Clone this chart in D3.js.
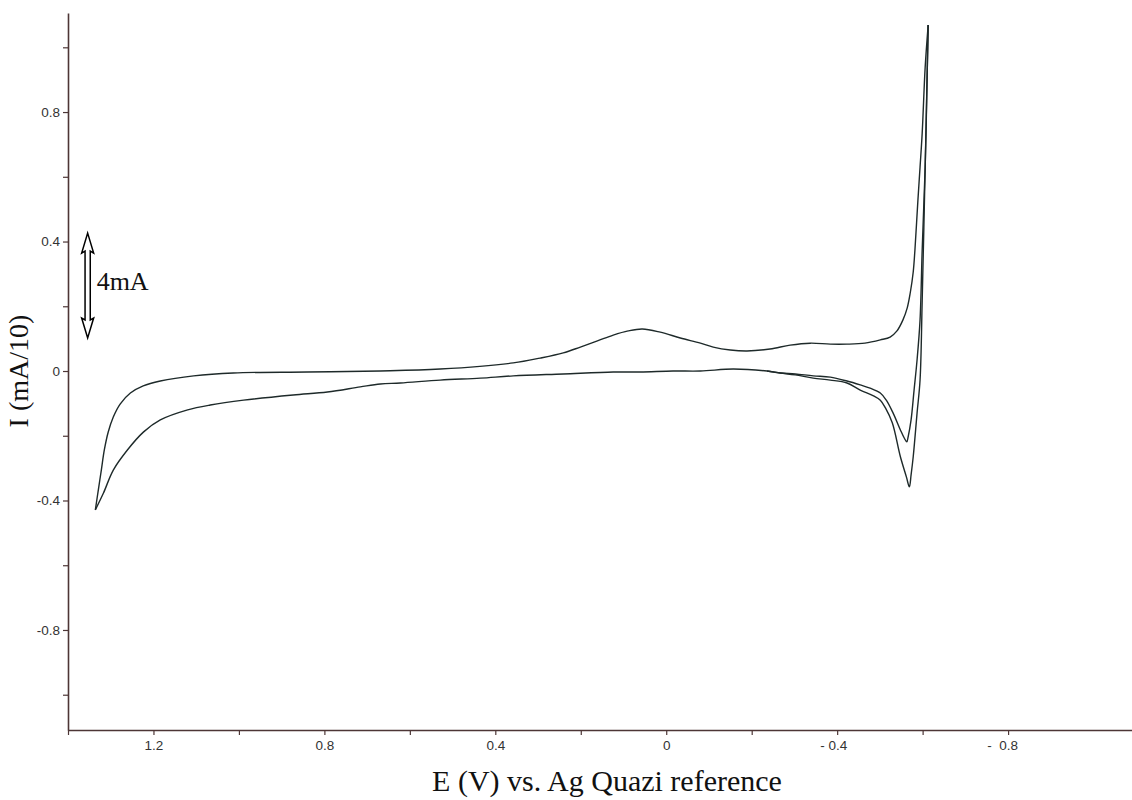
<!DOCTYPE html>
<html>
<head>
<meta charset="utf-8">
<script src="https://cdn.jsdelivr.net/npm/d3@7"></script>
<style>
  body { margin: 0; background: #fff; }
  svg { display: block; }
  .tick text { font-family: "Liberation Sans", Arial, sans-serif; font-size: 13.5px; fill: #333; white-space: pre; }
  .serif { font-family: "Liberation Serif", "Times New Roman", serif; font-size: 26px; fill: #111; }
  .title { font-size: 30px; }
  .ytitle { font-size: 28px; }
</style>
</head>
<body>
<svg width="1132" height="800"></svg>
<script>
// forward sweep: positive tip -> anodic peak -> spike top
const fwdE = [1.336, 1.329, 1.322, 1.315, 1.306, 1.294, 1.278, 1.254, 1.224, 1.184, 1.106, 1.013, 0.840, 0.669, 0.529, 0.358, 0.295, 0.241, 0.201, 0.161, 0.124, 0.089, 0.056, 0.014, -0.033, -0.080, -0.110, -0.150, -0.189, -0.243, -0.290, -0.337, -0.384, -0.423, -0.465, -0.501, -0.524, -0.540, -0.554, -0.564, -0.571, -0.578, -0.582, -0.589, -0.594, -0.599, -0.606, -0.613];
const fwdI = [-0.429, -0.367, -0.306, -0.244, -0.189, -0.142, -0.102, -0.068, -0.046, -0.031, -0.015, -0.006, -0.003, 0.000, 0.006, 0.025, 0.040, 0.056, 0.074, 0.093, 0.111, 0.124, 0.130, 0.120, 0.102, 0.086, 0.074, 0.065, 0.062, 0.068, 0.080, 0.086, 0.083, 0.083, 0.086, 0.096, 0.105, 0.124, 0.158, 0.195, 0.241, 0.306, 0.374, 0.528, 0.630, 0.735, 0.939, 1.069];

// reverse sweep, scan 1 (shallow cathodic peak) back to the tip
const rev1E = [-0.613, -0.611, -0.606, -0.599, -0.594, -0.587, -0.580, -0.573, -0.566, -0.563, -0.557, -0.548, -0.531, -0.515, -0.501, -0.477, -0.454, -0.423, -0.384, -0.344, -0.302, -0.267, -0.236, -0.157, -0.080, -0.016, 0.061, 0.124, 0.241, 0.358, 0.435, 0.529, 0.622, 0.669, 0.716, 0.793, 0.873, 0.989, 1.067, 1.120, 1.184, 1.223, 1.261, 1.294, 1.317, 1.336];
const rev1I = [1.069, 0.939, 0.630, 0.374, 0.158, 0.034, -0.059, -0.151, -0.204, -0.219, -0.207, -0.182, -0.130, -0.090, -0.068, -0.053, -0.043, -0.031, -0.019, -0.015, -0.009, -0.006, 0.000, 0.006, 0.000, 0.000, -0.003, -0.003, -0.009, -0.015, -0.022, -0.028, -0.037, -0.040, -0.049, -0.065, -0.074, -0.090, -0.105, -0.120, -0.151, -0.188, -0.244, -0.306, -0.377, -0.429];

// reverse sweep, scan 2 (deeper cathodic peak), joins scan 1 near -0.24 V
const rev2E = [-0.613, -0.611, -0.606, -0.599, -0.594, -0.587, -0.578, -0.573, -0.569, -0.562, -0.548, -0.529, -0.513, -0.501, -0.485, -0.454, -0.423, -0.384, -0.344, -0.302, -0.267, -0.236];
const rev2I = [1.069, 0.939, 0.630, 0.219, -0.028, -0.130, -0.265, -0.321, -0.358, -0.327, -0.265, -0.160, -0.114, -0.090, -0.077, -0.059, -0.037, -0.028, -0.022, -0.012, -0.006, 0.000];

const xMajor = [1.2, 0.8, 0.4, 0, -0.4, -0.8];
const xLabels = ["1.2", "0.8", "0.4", "0", "- 0.4", "-  0.8"];
const xMinor = [1.4, 1.0, 0.6, 0.2, -0.2, -0.6];
const yMajor = [0.8, 0.4, 0, -0.4, -0.8];
const yMinor = [1.0, 0.6, 0.2, -0.2, -0.6, -1.0];

// scale bar: 4 mA
const barE = 1.354;
const barTop = 0.426;
const barBottom = 0.102;

const svg = d3.select('svg');
const axisColor = '#4d3636';

const x = d3.scaleLinear().domain([1.4, -1.09]).range([68, 1132]);
const y = d3.scaleLinear().domain([-1.109, 1.106]).range([730, 13]);

const styleAxis = g => {
    g.select('.domain').attr('stroke', axisColor).attr('stroke-width', 1.6);
    g.selectAll('.tick line').attr('stroke', axisColor).attr('stroke-width', 1.2);
};

// y axis
svg.append('g')
    .attr('transform', `translate(${x(1.4)},0)`)
    .call(d3.axisLeft(y).tickValues(yMajor).tickSize(5).tickSizeOuter(0).tickPadding(3)
        .tickFormat(d => d === 0 ? '0' : (d < 0 ? '-' : '') + Math.abs(d).toFixed(1)))
    .call(styleAxis);
svg.append('g')
    .attr('transform', `translate(${x(1.4)},0)`)
    .call(d3.axisLeft(y).tickValues(yMinor).tickSize(5).tickFormat(''))
    .call(g => g.select('.domain').remove())
    .call(styleAxis);

// x axis
svg.append('g')
    .attr('transform', `translate(0,${y(-1.109)})`)
    .call(d3.axisBottom(x).tickValues(xMajor).tickSize(5).tickSizeOuter(0).tickPadding(5)
        .tickFormat((d, i) => xLabels[i]))
    .call(styleAxis)
    .call(g => g.selectAll('.tick text')
        .filter(d => d < 0)
        .attr('text-anchor', 'end')
        .attr('x', 9.5));
svg.append('g')
    .attr('transform', `translate(0,${y(-1.109)})`)
    .call(d3.axisBottom(x).tickValues(xMinor).tickSize(5).tickFormat(''))
    .call(g => g.select('.domain').remove())
    .call(styleAxis);

// curves
const line = d3.line()
    .x(d => x(d[0]))
    .y(d => y(d[1]))
    .curve(d3.curveCatmullRom.alpha(0.5));

const series = [
    d3.zip(fwdE, fwdI),
    d3.zip(rev1E, rev1I),
    d3.zip(rev2E, rev2I)
];

svg.append('g')
    .selectAll('path')
    .data(series)
    .enter().append('path')
        .attr('d', line)
        .attr('fill', 'none')
        .attr('stroke', '#1e2a2a')
        .attr('stroke-width', 1.4)
        .attr('stroke-linejoin', 'round');

// 4mA double arrow
const ax = x(barE), at = y(barTop), ab = y(barBottom);
const head = 20, hw = 6, sw = 2.6;
const arrow = [
    [ax, at], [ax + hw, at + head], [ax + sw, at + head - 2],
    [ax + sw, ab - head + 2], [ax + hw, ab - head], [ax, ab],
    [ax - hw, ab - head], [ax - sw, ab - head + 2],
    [ax - sw, at + head - 2], [ax - hw, at + head]
];
svg.append('path')
    .attr('d', d3.line()(arrow) + 'Z')
    .attr('fill', '#fff')
    .attr('stroke', '#000')
    .attr('stroke-width', 1.5)
    .attr('stroke-linejoin', 'miter');

svg.append('text')
    .attr('class', 'serif')
    .attr('x', ax + 9)
    .attr('y', y(0.25))
    .text('4mA');

// axis titles
svg.append('text')
    .attr('class', 'serif ytitle')
    .attr('text-anchor', 'middle')
    .attr('transform', `translate(28,${y(0)}) rotate(-90)`)
    .text('I (mA/10)');

svg.append('text')
    .attr('class', 'serif title')
    .attr('text-anchor', 'middle')
    .attr('x', 607)
    .attr('y', 791)
    .text('E (V) vs. Ag Quazi reference');
</script>
</body>
</html>
